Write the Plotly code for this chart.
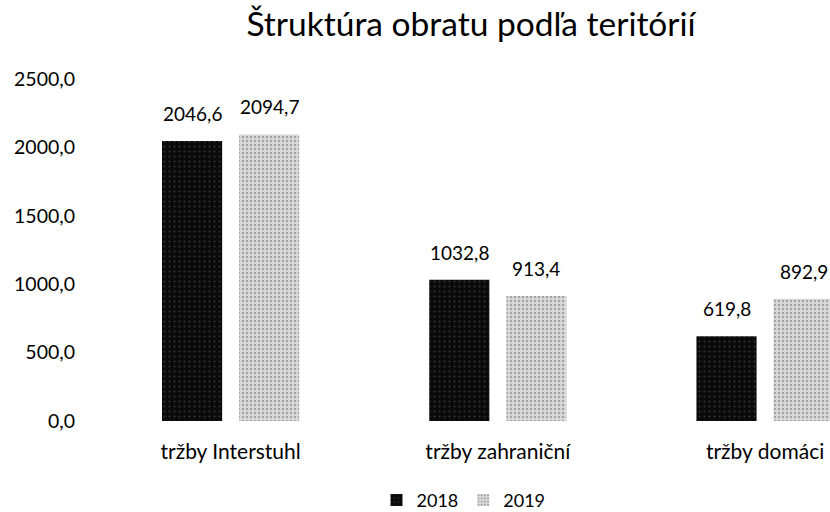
import plotly.graph_objects as go

categories = ["tržby Interstuhl", "tržby zahraniční", "tržby domáci"]
series_2018 = [2046.6, 1032.8, 619.8]
series_2019 = [2094.7, 913.4, 892.9]
series_names = ["2018", "2019"]
y_ticks = [0, 500, 1000, 1500, 2000, 2500]

FONT = "Lato, 'Open Sans', sans-serif"
W, H = 830, 512
ML, MR, MT, MB = 97, 0, 79, 91
X_RANGE = [-0.5, 2.243]
BARGAP, BARGROUPGAP = 0.423, 0.22

fig = go.Figure()
fig.add_trace(go.Bar(
    name=series_names[0], x=categories, y=series_2018,
    marker=dict(color="#111111", line=dict(width=0),
                pattern=dict(shape=".", fgcolor="#555555", bgcolor="#0a0a0a", size=5, solidity=0.15)),
))
fig.add_trace(go.Bar(
    name=series_names[1], x=categories, y=series_2019,
    marker=dict(color="#c8c8c8", line=dict(width=0),
                pattern=dict(shape=".", fgcolor="#6e6e6e", bgcolor="#dadada", size=4, solidity=0.3)),
))

# value labels above bars, positioned from the data and the bar layout
px_per_cat = (W - ML - MR) / (X_RANGE[1] - X_RANGE[0])
slot = px_per_cat * (1 - BARGAP) / 2
annotations = []
for k, vals in enumerate([series_2018, series_2019]):
    offset = (k - 0.5) * slot
    for cat, v in zip(categories, vals):
        annotations.append(dict(
            x=cat, y=v, xref="x", yref="y", text=f"{v:.1f}".replace(".", ","),
            showarrow=False, xshift=offset, yanchor="bottom", yshift=14,
            font=dict(size=19, family=FONT, color="#000000"),
        ))

fig.update_layout(
    width=W, height=H,
    margin=dict(l=ML, r=MR, t=MT, b=MB, autoexpand=False),
    paper_bgcolor="white", plot_bgcolor="white",
    separators=", ",
    barmode="group", bargap=BARGAP, bargroupgap=BARGROUPGAP,
    font=dict(family=FONT, size=16, color="#000000"),
    title=dict(text="Štruktúra obratu podľa teritórií", x=0.5675, xref="container", xanchor="center",
               y=0.953, yref="container", yanchor="middle",
               font=dict(size=33.5, family=FONT, color="#000000")),
    showlegend=True,
    legend=dict(orientation="h", x=0.5, xanchor="center", y=-0.232, yanchor="middle",
                font=dict(size=18, family=FONT), itemwidth=30, traceorder="normal"),
    annotations=annotations,
)
fig.update_xaxes(range=X_RANGE, showgrid=False, showline=False, zeroline=False, automargin=False,
                 ticks="", ticklabelstandoff=16, tickfont=dict(size=21, family=FONT))
fig.update_yaxes(range=[0, 2500], tickvals=y_ticks, tickformat=".1f", showgrid=False, automargin=False,
                 showline=False, zeroline=False, ticks="", ticklabelstandoff=21,
                 tickfont=dict(size=19.5, family=FONT))

fig.write_html("out.html", config={"displayModeBar": False},
               post_script="document.body.style.margin='0';document.body.style.overflow='hidden';")
